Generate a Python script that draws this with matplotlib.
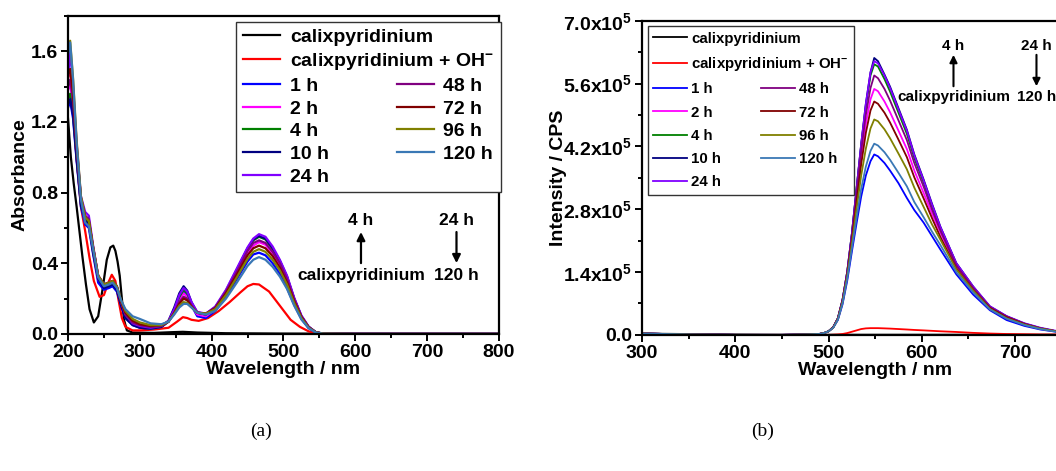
import numpy as np
import matplotlib
matplotlib.use("Agg")
import matplotlib.pyplot as plt
from matplotlib.ticker import MultipleLocator, FuncFormatter

plt.rcParams['font.family'] = ['Liberation Sans', 'DejaVu Sans']
plt.rcParams['font.weight'] = 'bold'
plt.rcParams['axes.labelweight'] = 'bold'
plt.rcParams['mathtext.fontset'] = 'custom'
plt.rcParams['mathtext.rm'] = 'Liberation Sans:bold'
plt.rcParams['mathtext.bf'] = 'Liberation Sans:bold'
plt.rcParams['mathtext.default'] = 'bf'

# ---------------- (a) absorption ----------------
black_wl = [200, 204, 208, 212, 216, 220, 225, 230, 236, 242, 248, 254, 259, 263, 266, 269, 272,
            275, 278, 282, 290, 320, 345, 360, 380, 420, 500, 800]
black_a = [1.22, 1.0, 0.85, 0.72, 0.58, 0.44, 0.28, 0.14, 0.065, 0.1, 0.25, 0.42, 0.49, 0.5, 0.47,
           0.41, 0.33, 0.2, 0.08, 0.02, 0.008, 0.006, 0.01, 0.012, 0.008, 0.004, 0.002, 0.0]

red_wl = [200, 203, 207, 212, 218, 224, 230, 236, 244, 250, 256, 261, 266, 270, 275, 280, 290, 300,
          320, 340, 352, 360, 366, 372, 382, 395, 410, 425, 440, 450, 458, 466, 480, 495, 510, 523,
          535, 545, 560, 800]
red_a = [1.45, 1.5, 1.3, 1.0, 0.72, 0.58, 0.43, 0.3, 0.21, 0.22, 0.29, 0.335, 0.3, 0.2, 0.09, 0.04,
         0.02, 0.02, 0.025, 0.035, 0.07, 0.095, 0.09, 0.08, 0.074, 0.09, 0.13, 0.18, 0.235, 0.27,
         0.283, 0.28, 0.24, 0.16, 0.08, 0.04, 0.015, 0.004, 0.0, 0.0]

abs_wl = [200, 203, 207, 212, 218, 224, 229, 235, 242, 250, 257, 262, 268, 274, 280, 290, 300, 315,
          330, 340, 348, 355, 361, 366, 372, 380, 392, 405, 420, 435, 450, 458, 466, 475, 485, 495,
          505, 515, 525, 535, 545, 555, 600, 800]
abs_1h = [1.28, 1.32, 1.22, 0.98, 0.72, 0.62, 0.60, 0.45, 0.29, 0.25, 0.26, 0.27, 0.24, 0.16, 0.09,
          0.05, 0.035, 0.03, 0.04, 0.07, 0.13, 0.2, 0.24, 0.22, 0.16, 0.1, 0.09, 0.13, 0.21, 0.31,
          0.41, 0.45, 0.46, 0.445, 0.4, 0.34, 0.26, 0.165, 0.085, 0.033, 0.008, 0.001, 0, 0]
abs_2h = [1.38, 1.42, 1.28, 1.0, 0.74, 0.64, 0.62, 0.47, 0.31, 0.27, 0.28, 0.29, 0.26, 0.17, 0.1,
          0.055, 0.04, 0.03, 0.04, 0.07, 0.13, 0.19, 0.23, 0.21, 0.16, 0.11, 0.1, 0.14, 0.23, 0.34,
          0.45, 0.5, 0.52, 0.505, 0.455, 0.39, 0.3, 0.19, 0.095, 0.038, 0.009, 0.001, 0, 0]
abs_4h = [1.33, 1.36, 1.25, 1.0, 0.74, 0.65, 0.63, 0.47, 0.32, 0.27, 0.28, 0.29, 0.26, 0.17, 0.1,
          0.055, 0.04, 0.03, 0.04, 0.07, 0.14, 0.21, 0.25, 0.23, 0.17, 0.12, 0.11, 0.15, 0.24, 0.36,
          0.48, 0.53, 0.55, 0.535, 0.48, 0.41, 0.32, 0.2, 0.1, 0.04, 0.01, 0.002, 0, 0]
abs_10h = [1.3, 1.33, 1.24, 0.99, 0.73, 0.64, 0.62, 0.46, 0.31, 0.26, 0.27, 0.28, 0.25, 0.16, 0.09,
           0.05, 0.035, 0.03, 0.04, 0.075, 0.15, 0.23, 0.27, 0.245, 0.18, 0.12, 0.11, 0.15, 0.245,
           0.365, 0.485, 0.535, 0.555, 0.54, 0.485, 0.415, 0.325, 0.2, 0.1, 0.04, 0.01, 0.002, 0, 0]
abs_24h = [1.45, 1.6, 1.4, 1.08, 0.78, 0.69, 0.67, 0.5, 0.33, 0.28, 0.29, 0.3, 0.27, 0.18, 0.11,
           0.06, 0.045, 0.035, 0.045, 0.075, 0.14, 0.22, 0.26, 0.24, 0.18, 0.125, 0.115, 0.155, 0.25,
           0.37, 0.49, 0.54, 0.565, 0.55, 0.495, 0.42, 0.33, 0.205, 0.105, 0.042, 0.01, 0.002, 0, 0]
abs_48h = [1.4, 1.44, 1.32, 1.05, 0.77, 0.67, 0.65, 0.49, 0.33, 0.28, 0.29, 0.3, 0.27, 0.18, 0.11,
           0.065, 0.05, 0.04, 0.045, 0.07, 0.12, 0.18, 0.21, 0.2, 0.16, 0.12, 0.115, 0.15, 0.24,
           0.35, 0.47, 0.515, 0.53, 0.515, 0.465, 0.4, 0.31, 0.195, 0.1, 0.04, 0.01, 0.002, 0, 0]
abs_72h = [1.47, 1.5, 1.36, 1.06, 0.77, 0.66, 0.64, 0.49, 0.33, 0.28, 0.29, 0.3, 0.27, 0.18, 0.12,
           0.075, 0.055, 0.045, 0.05, 0.07, 0.12, 0.17, 0.2, 0.19, 0.155, 0.12, 0.115, 0.145, 0.23,
           0.335, 0.445, 0.485, 0.5, 0.485, 0.44, 0.375, 0.29, 0.185, 0.095, 0.038, 0.009, 0.002, 0, 0]
abs_96h = [1.6, 1.66, 1.45, 1.1, 0.78, 0.66, 0.64, 0.49, 0.33, 0.28, 0.29, 0.3, 0.27, 0.19, 0.13,
           0.085, 0.065, 0.05, 0.05, 0.07, 0.115, 0.16, 0.18, 0.175, 0.15, 0.12, 0.115, 0.14, 0.22,
           0.32, 0.425, 0.465, 0.48, 0.465, 0.42, 0.36, 0.28, 0.175, 0.09, 0.036, 0.009, 0.002, 0, 0]
abs_120h = [1.58, 1.65, 1.44, 1.08, 0.76, 0.63, 0.61, 0.48, 0.32, 0.27, 0.28, 0.29, 0.26, 0.19, 0.14,
            0.1, 0.085, 0.06, 0.055, 0.07, 0.11, 0.15, 0.17, 0.17, 0.15, 0.12, 0.11, 0.13, 0.2, 0.29,
            0.385, 0.42, 0.435, 0.42, 0.38, 0.325, 0.255, 0.16, 0.082, 0.033, 0.008, 0.001, 0, 0]

# ---------------- (b) emission, in units of 1e5 CPS ----------------
fl_wl = [300, 350, 400, 450, 480, 490, 495, 500, 505, 510, 515, 520, 525, 530, 535, 540, 545, 549,
         553, 560, 566, 575, 584, 592, 602, 611, 620, 637, 655, 673, 691, 710, 727, 744, 760, 800]
fl_black = [0.03, 0.02, 0.01, 0.005, 0.005, 0.005, 0.005, 0.005, 0.005, 0.005, 0.005, 0.005, 0.005,
            0.005, 0.005, 0.005, 0.005, 0.005, 0.005, 0.005, 0.005, 0.005, 0.005, 0.005, 0.005,
            0.005, 0.005, 0.005, 0.005, 0.005, 0.005, 0.005, 0.005, 0.005, 0.005, 0.005]
fl_red = [0.0, 0.0, 0.0, 0.0, 0.0, 0.0, 0.0, 0.0, 0.005, 0.01, 0.02, 0.04, 0.07, 0.1, 0.13, 0.145,
          0.15, 0.15, 0.15, 0.145, 0.14, 0.13, 0.12, 0.11, 0.1, 0.09, 0.08, 0.065, 0.045, 0.03,
          0.02, 0.015, 0.01, 0.01, 0.008, 0.005]
fl_1h = [0.03, 0.01, 0, 0, 0.01, 0.02, 0.04, 0.08, 0.16, 0.33, 0.68, 1.2, 1.85, 2.48, 3.08, 3.55,
         3.87, 4.02, 3.98, 3.83, 3.66, 3.38, 3.05, 2.78, 2.5, 2.2, 1.9, 1.35, 0.9, 0.55, 0.33, 0.2,
         0.12, 0.07, 0.04, 0.02]
fl_2h = [0.03, 0.01, 0, 0, 0.01, 0.02, 0.04, 0.08, 0.17, 0.36, 0.76, 1.36, 2.15, 3.05, 3.95, 4.7,
         5.25, 5.48, 5.43, 5.2, 4.96, 4.55, 4.14, 3.66, 3.16, 2.7, 2.28, 1.53, 1.04, 0.62, 0.4, 0.24,
         0.14, 0.08, 0.05, 0.02]
fl_4h = [0.03, 0.01, 0, 0, 0.01, 0.02, 0.04, 0.08, 0.17, 0.37, 0.78, 1.4, 2.25, 3.25, 4.22, 5.1,
         5.78, 6.03, 5.98, 5.7, 5.42, 4.95, 4.48, 3.94, 3.39, 2.86, 2.37, 1.58, 1.06, 0.63, 0.41,
         0.25, 0.15, 0.08, 0.05, 0.02]
fl_10h = [0.03, 0.01, 0, 0, 0.01, 0.02, 0.04, 0.08, 0.17, 0.37, 0.78, 1.4, 2.25, 3.25, 4.25, 5.15,
          5.85, 6.17, 6.1, 5.8, 5.53, 5.05, 4.57, 4.02, 3.46, 2.92, 2.41, 1.6, 1.08, 0.63, 0.41,
          0.25, 0.15, 0.08, 0.05, 0.02]
fl_24h = [0.03, 0.01, 0, 0, 0.01, 0.02, 0.04, 0.08, 0.17, 0.37, 0.78, 1.4, 2.25, 3.25, 4.25, 5.15,
          5.85, 6.1, 6.05, 5.78, 5.5, 5.02, 4.55, 4.0, 3.44, 2.9, 2.4, 1.6, 1.08, 0.64, 0.42, 0.26,
          0.16, 0.09, 0.05, 0.02]
fl_48h = [0.03, 0.01, 0, 0, 0.01, 0.02, 0.04, 0.08, 0.17, 0.37, 0.77, 1.38, 2.2, 3.15, 4.1, 4.9,
          5.5, 5.78, 5.72, 5.48, 5.22, 4.78, 4.34, 3.83, 3.3, 2.79, 2.32, 1.55, 1.05, 0.62, 0.41,
          0.25, 0.15, 0.08, 0.05, 0.02]
fl_72h = [0.03, 0.01, 0, 0, 0.01, 0.02, 0.04, 0.08, 0.17, 0.36, 0.75, 1.33, 2.1, 2.95, 3.8, 4.5,
          5.0, 5.2, 5.15, 4.95, 4.73, 4.35, 3.96, 3.51, 3.04, 2.6, 2.18, 1.48, 1.0, 0.6, 0.39, 0.24,
          0.14, 0.08, 0.05, 0.02]
fl_96h = [0.03, 0.01, 0, 0, 0.01, 0.02, 0.04, 0.08, 0.16, 0.35, 0.73, 1.3, 2.02, 2.8, 3.55, 4.15,
          4.6, 4.8, 4.76, 4.58, 4.38, 4.04, 3.69, 3.28, 2.85, 2.46, 2.12, 1.46, 0.99, 0.58, 0.37,
          0.23, 0.14, 0.08, 0.05, 0.02]
fl_120h = [0.03, 0.01, 0, 0, 0.01, 0.02, 0.04, 0.08, 0.16, 0.34, 0.7, 1.25, 1.92, 2.6, 3.25, 3.75,
           4.1, 4.26, 4.22, 4.07, 3.9, 3.61, 3.31, 2.96, 2.62, 2.3, 2.0, 1.4, 0.95, 0.57, 0.36,
           0.22, 0.13, 0.07, 0.045, 0.02]

labels = ['1 h', '2 h', '4 h', '10 h', '24 h', '48 h', '72 h', '96 h', '120 h']
colors = ['#0000FF', '#FF00FF', '#008000', '#000080', '#8000FF', '#800080', '#800000',
          '#808000', '#3A78B5']
abs_series = [abs_1h, abs_2h, abs_4h, abs_10h, abs_24h, abs_48h, abs_72h, abs_96h, abs_120h]
fl_series = [fl_1h, fl_2h, fl_4h, fl_10h, fl_24h, fl_48h, fl_72h, fl_96h, fl_120h]

fig = plt.figure(figsize=(10.56, 4.71), dpi=100)
ax1 = fig.add_axes([0.0644, 0.291, 0.408, 0.675])
ax2 = fig.add_axes([0.608, 0.289, 0.4415, 0.667])


def style(ax, fs):
    for s in ax.spines.values():
        s.set_linewidth(1.6)
    ax.tick_params(which='both', direction='out', width=1.4, labelsize=fs, pad=2)
    ax.tick_params(which='major', length=5)
    ax.tick_params(which='minor', length=3)


def two_col_legend(ax, hs, ls, fs, anchor, col2_x, lab_sp, hlen, pad):
    col1 = [0, 1, 2, 3, 4, 5, 6]
    col2 = [7, 8, 9, 10]
    leg1 = ax.legend([hs[i] for i in col1], [ls[i] for i in col1], loc='upper left',
                     bbox_to_anchor=anchor, borderaxespad=0, fancybox=False, edgecolor='#333333',
                     framealpha=1, fontsize=fs, labelspacing=lab_sp, handlelength=hlen,
                     handletextpad=pad, borderpad=0.35)
    leg1.get_frame().set_linewidth(1.0)
    ax.add_artist(leg1)
    leg2 = ax.legend([hs[i] for i in col2], [ls[i] for i in col2], loc='upper left',
                     bbox_to_anchor=(col2_x, anchor[1]), borderaxespad=0, frameon=False,
                     fontsize=fs, labelspacing=lab_sp, handlelength=hlen, handletextpad=pad,
                     borderpad=0)
    fig.canvas.draw()
    r = fig.canvas.get_renderer()
    a = leg1.get_texts()[2].get_window_extent(r)
    b = leg2.get_texts()[0].get_window_extent(r)
    dy = (a.y0 + a.y1) / 2 - (b.y0 + b.y1) / 2
    leg2.set_bbox_to_anchor((col2_x, anchor[1] + dy / ax.bbox.height), transform=ax.transAxes)


# panel (a)
hs = []
hs += ax1.plot(black_wl, black_a, color='black', lw=1.6)
hs += ax1.plot(red_wl, red_a, color='#FF0000', lw=1.6)
for y, c in zip(abs_series, colors):
    hs += ax1.plot(abs_wl, y, color=c, lw=1.6)
ax1.set_xlim(200, 800)
ax1.set_ylim(0, 1.8)
ax1.xaxis.set_major_locator(MultipleLocator(100))
ax1.xaxis.set_minor_locator(MultipleLocator(50))
ax1.yaxis.set_major_locator(MultipleLocator(0.4))
ax1.yaxis.set_minor_locator(MultipleLocator(0.2))
ax1.yaxis.set_major_formatter(FuncFormatter(lambda v, p: f'{v:.1f}'))
style(ax1, 14)
ax1.set_xlabel('Wavelength / nm', fontsize=14, labelpad=0)
ax1.set_ylabel('Absorbance', fontsize=14, labelpad=2)
all_labels = ['calixpyridinium', 'calixpyridinium + OH$^{-}$'] + labels
two_col_legend(ax1, hs, all_labels, 14, (0.391, 0.982), 0.763, 0.26, 1.9, 0.5)

ax1.text(608, 0.644, '4 h', fontsize=12.5, ha='center', va='center')
ax1.text(608, 0.333, 'calixpyridinium', fontsize=12.5, ha='center', va='center')
ax1.text(741, 0.644, '24 h', fontsize=12.5, ha='center', va='center')
ax1.text(741, 0.333, '120 h', fontsize=12.5, ha='center', va='center')
ax1.annotate('', xy=(608, 0.577), xytext=(608, 0.401),
             arrowprops=dict(arrowstyle='-|>', color='black', lw=1.6, mutation_scale=12,
                             shrinkA=0, shrinkB=0))
ax1.annotate('', xy=(741, 0.401), xytext=(741, 0.577),
             arrowprops=dict(arrowstyle='-|>', color='black', lw=1.6, mutation_scale=12,
                             shrinkA=0, shrinkB=0))

# panel (b)
hs = []
hs += ax2.plot(fl_wl, np.array(fl_black) * 1e5, color='black', lw=1.3)
hs += ax2.plot(fl_wl, np.array(fl_red) * 1e5, color='#FF0000', lw=1.3)
for y, c in zip(fl_series, colors):
    hs += ax2.plot(fl_wl, np.array(y) * 1e5, color=c, lw=1.3)
ax2.set_xlim(300, 800)
ax2.set_ylim(0, 7.0e5)
ax2.xaxis.set_major_locator(MultipleLocator(100))
ax2.xaxis.set_minor_locator(MultipleLocator(50))
ax2.yaxis.set_major_locator(MultipleLocator(1.4e5))
ax2.yaxis.set_minor_locator(MultipleLocator(0.7e5))
ax2.yaxis.set_major_formatter(FuncFormatter(
    lambda v, p: '0.0' if v == 0 else f'{v / 1e5:.1f}x10$^{{5}}$'))
style(ax2, 14)
ax2.set_xlabel('Wavelength / nm', fontsize=14, labelpad=0)
ax2.set_ylabel('Intensity / CPS', fontsize=14, labelpad=-3)
two_col_legend(ax2, hs, all_labels, 10.8, (0.012, 0.982), 0.255, 0.62, 2.3, 0.25)

ax2.text(634, 6.43e5, '4 h', fontsize=11, ha='center', va='center')
ax2.text(634, 5.29e5, 'calixpyridinium', fontsize=11, ha='center', va='center')
ax2.text(723, 6.43e5, '24 h', fontsize=11, ha='center', va='center')
ax2.text(723, 5.29e5, '120 h', fontsize=11, ha='center', va='center')
ax2.annotate('', xy=(634, 6.24e5), xytext=(634, 5.54e5),
             arrowprops=dict(arrowstyle='-|>', color='black', lw=1.5, mutation_scale=11,
                             shrinkA=0, shrinkB=0))
ax2.annotate('', xy=(723, 5.54e5), xytext=(723, 6.24e5),
             arrowprops=dict(arrowstyle='-|>', color='black', lw=1.5, mutation_scale=11,
                             shrinkA=0, shrinkB=0))

fig.text(261 / 1056, 1 - 431 / 471, '(a)', fontsize=14, family='Liberation Serif',
         weight='normal', ha='center', va='center')
fig.text(763 / 1056, 1 - 431 / 471, '(b)', fontsize=14, family='Liberation Serif',
         weight='normal', ha='center', va='center')

fig.savefig('out.png', dpi=100)
